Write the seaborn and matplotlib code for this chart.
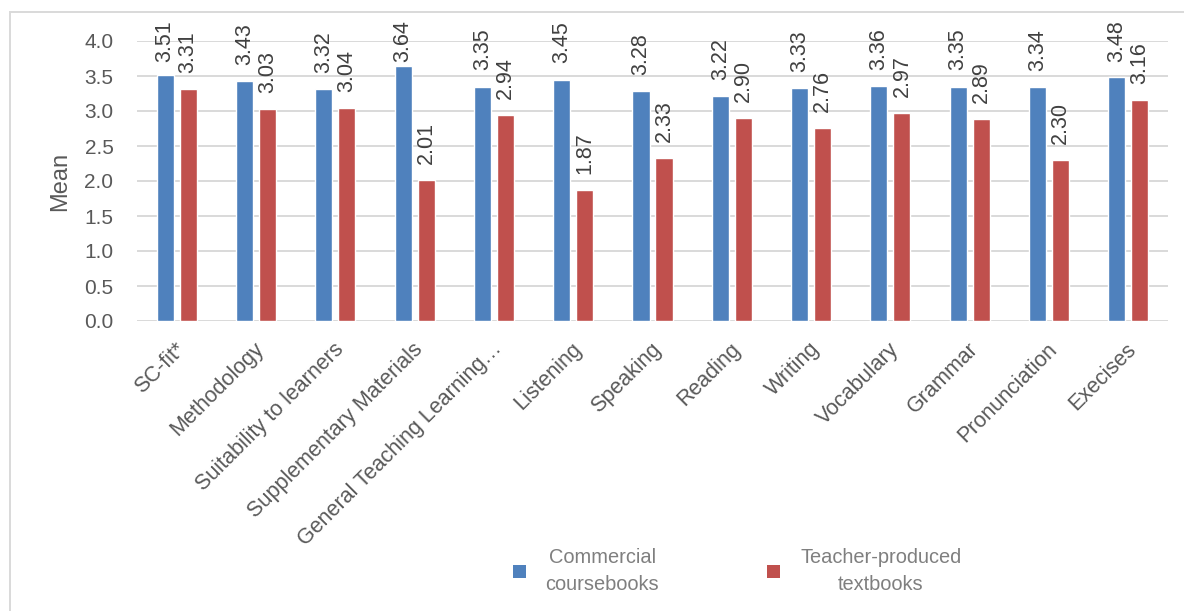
import matplotlib
matplotlib.use("Agg")
import matplotlib.pyplot as plt
import matplotlib.patches as mpatches
from matplotlib.transforms import ScaledTranslation
import seaborn as sns
import pandas as pd

categories = ["SC-fit*", "Methodology", "Suitability to learners", "Supplementary Materials",
              "General Teaching Learning\u2026", "Listening", "Speaking", "Reading", "Writing",
              "Vocabulary", "Grammar", "Pronunciation", "Execises"]
commercial = [3.51, 3.43, 3.32, 3.64, 3.35, 3.45, 3.28, 3.22, 3.33, 3.36, 3.35, 3.34, 3.48]
teacher = [3.31, 3.03, 3.04, 2.01, 2.94, 1.87, 2.33, 2.90, 2.76, 2.97, 2.89, 2.30, 3.16]
series_names = ["Commercial\ncoursebooks", "Teacher-produced\ntextbooks"]
y_ticks = [0.0, 0.5, 1.0, 1.5, 2.0, 2.5, 3.0, 3.5, 4.0]

colors = ["#4f81bd", "#c0504d"]

df = pd.DataFrame({
    "Category": categories * 2,
    "Mean": commercial + teacher,
    "Series": [series_names[0]] * len(categories) + [series_names[1]] * len(categories),
})

sns.set_style("white")
plt.rcParams["font.family"] = ["Liberation Sans", "DejaVu Sans"]

W, H = 1184, 611
fig = plt.figure(figsize=(W / 100, H / 100), dpi=100)
ax = fig.add_axes([137 / W, 1 - 321 / H, (1168 - 137) / W, (321 - 41) / H])

sns.barplot(data=df, x="Category", y="Mean", hue="Series", order=categories,
            hue_order=series_names, palette=colors, width=0.58, gap=0.26,
            saturation=1, legend=False, ax=ax, errorbar=None)

ax.set_ylim(0, 4.0)
ax.set_xlim(-0.5, len(categories) - 0.5)

# value labels: offset above the bar, but kept inside the chart area (as Excel does)
label_gap = 0.229   # in data units (~16 px)
label_cap = 3.70    # highest allowed label base
for cont in ax.containers:
    for bar in cont:
        v = bar.get_height()
        ax.annotate(f"{v:.2f}", xy=(bar.get_x() + bar.get_width() / 2, min(v + label_gap, label_cap)),
                    ha="center", va="bottom", rotation=90, fontsize=15.5, color="#404040",
                    annotation_clip=False)

ax.set_yticks(y_ticks)
ax.set_yticklabels([f"{t:.1f}" for t in y_ticks])
ax.yaxis.grid(True, color="#d9d9d9", lw=1.4)
ax.set_axisbelow(True)
for s in ax.spines.values():
    s.set_visible(False)
ax.tick_params(axis="y", length=0, pad=17, labelsize=15, labelcolor="#595959")
ax.tick_params(axis="x", length=0, pad=18, labelsize=15.5, labelcolor="#595959")
shift = ScaledTranslation(5 / 100, 0, fig.dpi_scale_trans)
for lab in ax.get_xticklabels():
    lab.set_rotation(45)
    lab.set_ha("right")
    lab.set_va("center")
    lab.set_rotation_mode("anchor")
    lab.set_transform(lab.get_transform() + shift)

ax.set_xlabel("")
ax.set_ylabel("Mean", fontsize=17, color="#595959")
ax.yaxis.set_label_coords(-0.075, 0.5)
ax.yaxis.label.set_va("center")

# chart border
border = mpatches.Rectangle((10 / W, -0.05), 1.1, 1 - 12 / H + 0.05, transform=fig.transFigure,
                            fill=False, edgecolor="#d9d9d9", lw=1.4, clip_on=False)
fig.patches.append(border)

handles = [mpatches.Patch(facecolor=c, edgecolor="none") for c in colors]
leg = fig.legend(handles, series_names, loc="center", bbox_to_anchor=(737 / W, 1 - 571 / H),
                 ncol=2, frameon=False, fontsize=14.4, handlelength=0.65, handleheight=0.65,
                 handletextpad=1.0, columnspacing=5.4, labelcolor="#7f7f7f")
for t in leg.get_texts():
    t.set_multialignment("center")
    t.set_linespacing(1.5)

fig.savefig("out.png", dpi=100)
